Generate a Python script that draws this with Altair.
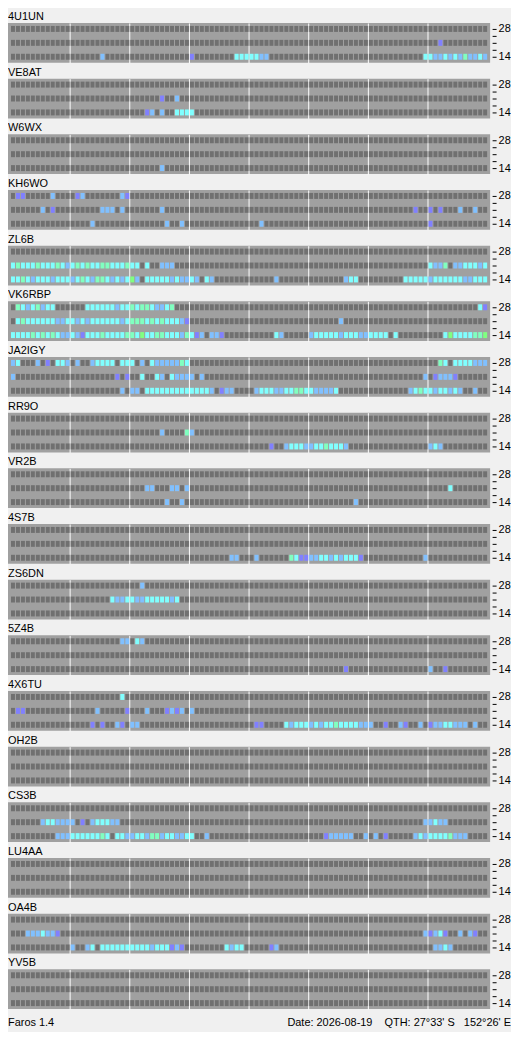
import altair as alt
import pandas as pd

# ---------------- data ----------------
STATIONS = ["4U1UN", "VE8AT", "W6WX", "KH6WO", "ZL6B", "VK6RBP", "JA2IGY", "RR9O",
            "VR2B", "4S7B", "ZS6DN", "5Z4B", "4X6TU", "OH2B", "CS3B", "LU4AA",
            "OA4B", "YV5B"]
BANDS = [28, 21, 14]          # rows drawn per station (MHz)
N_SLOTS = 96                  # time slots across the day

# signal codes: " " none, v violet, s sky, c cyan, m mint, g green
LEVELS = ["0", "v", "s", "c", "m", "g"]
LEVEL_COLORS = ["#707070", "#8080ff", "#80c0ff", "#80ffff", "#80ffc0", "#80ff80"]

# band -> list of (first slot, run of codes)
S_4U1UN = {21: [(86, "v")],
           14: [(18, "s"), (36, "v"), (45, "cccccss"), (83, "ccsscscsmsscs")]}
S_VE8AT = {21: [(30, "v"), (33, "s")],
           14: [(27, "vs s  cccc")]}
S_W6WX = {14: [(30, "s")]}
S_KH6WO = {28: [(1, "vv"), (8, "s"), (13, "vs"), (22, "sv")],
           21: [(6, "s v"), (18, "sss s"), (30, "s"), (81, "v"), (84, "v v   s  s")],
           14: [(16, "s"), (31, "s"), (34, "s"), (50, "s"), (84, "v")]}
S_ZL6B = {21: [(0, "cmcccmcccmcs"), (12, "cmcmccmmcccm"), (24, "cc c  sss"),
               (84, "cssm sscccsc")],
          14: [(0, "ccmcscccsccc"), (12, "scmcsmmcscsc"), (24, "gs cccccscss"),
               (36, "cs cs"), (53, "s"), (67, "scc"), (79, "ccccc"), (84, "sccccccssccc")]}
S_VK6RBP = {28: [(1, "mcscmscc"), (15, "ccccccscc"), (24, "mcmmcsscm"), (94, "cv")],
            21: [(1, "cmccccccssc"), (12, "cscsccccccsc"), (24, "mmmcmcmcccsv"), (66, "s")],
            14: [(0, "ccccmcmcmcss"), (12, "csvcccmccccm"), (24, "mcgccmmcccsm"),
                 (36, "cvs ssv"), (53, "cs"), (60, "scccccscccss"), (72, "cccc c"),
                 (87, "cgccccmmg")]}
S_JA2IGY = {28: [(0, "sc   s v ccs"), (12, " s  scccc cc"), (24, "c s csssssmc"),
                 (86, "mc ccccsss")],
            21: [(0, "s"), (21, "v v"), (26, "c  cs cssss s"), (83, "s vsssv")],
            14: [(22, "s"), (24, "ss cccccccccccccs vss"), (49, "scccssccmmccssssc"),
                 (80, "scmccsccscs  s")]}
S_RR9O = {21: [(30, "s"), (35, "ms")],
          14: [(52, "v  scccssccmcccs"), (84, "scs")]}
S_VR2B = {21: [(27, "ss   ss s"), (88, "c")],
          14: [(31, "s"), (34, "s"), (69, "s")]}
S_4S7B = {14: [(44, "ss   s"), (56, "mcvvssccscscccv"), (83, "s")]}
S_ZS6DN = {28: [(26, "s")],
           21: [(20, "cssccsscccccsc")]}
S_5Z4B = {28: [(22, "ss cs")],
          14: [(67, "v"), (84, "s  v")]}
S_4X6TU = {28: [(22, "c")],
           21: [(1, "vv"), (17, "s"), (23, "v"), (27, "s"), (31, "vsvs"), (36, "s")],
           14: [(16, "v v  sv ss"), (49, "vv"), (55, "cscccscsccmccccsss"), (75, "v"),
                (78, "sv"), (82, "s"), (84, "vssccsss"), (93, "s")]}
S_OH2B = {}
S_CS3B = {21: [(6, "sccssss v scccss"), (83, "sscss")],
          14: [(9, "sssccccccmc ccssccsmmsccsscc"), (39, "s"), (63, "vsssss  s s v"),
               (81, "scsccccmsss")]}
S_LU4AA = {}
S_OA4B = {21: [(3, "ssscssv"), (83, "svscv  s sv")],
          14: [(12, "s  sc ccccccccccscccvsv"), (43, "cscc"), (52, "vs"), (85, "sscs")]}
S_YV5B = {}

RECEPTION = {"4U1UN": S_4U1UN, "VE8AT": S_VE8AT, "W6WX": S_W6WX, "KH6WO": S_KH6WO,
             "ZL6B": S_ZL6B, "VK6RBP": S_VK6RBP, "JA2IGY": S_JA2IGY, "RR9O": S_RR9O,
             "VR2B": S_VR2B, "4S7B": S_4S7B, "ZS6DN": S_ZS6DN, "5Z4B": S_5Z4B,
             "4X6TU": S_4X6TU, "OH2B": S_OH2B, "CS3B": S_CS3B, "LU4AA": S_LU4AA,
             "OA4B": S_OA4B, "YV5B": S_YV5B}

FOOTER_LEFT = "Faros 1.4"
FOOTER_RIGHT = "Date: 2026-08-19\u00a0\u00a0\u00a0\u00a0QTH: 27°33' S\u00a0\u00a0\u00a0152°26' E"

# ---------------- build table ----------------
records = []
for st in STATIONS:
    segs = RECEPTION[st]
    for band in BANDS:
        row = ["0"] * N_SLOTS
        for start, run in segs.get(band, []):
            for k, ch in enumerate(run):
                if ch != " ":
                    row[start + k] = ch
        for slot in range(N_SLOTS):
            records.append({"station": st, "band": band, "slot": slot, "level": row[slot]})
df = pd.DataFrame(records)

FONT = "Liberation Sans"
GRID_AT = [12 * k - 0.6 for k in range(1, 8)]      # 3-hour separators
TICKS_AT = [14, 17.5, 21, 24.5, 28]


def panel(st):
    return alt.Chart(df).transform_filter(
        alt.datum.station == st
    ).transform_calculate(
        x0="datum.slot - 0.4", x1="datum.slot + 0.4",
        y0="datum.band - 1.5", y1="datum.band + 1.5",
    ).mark_rect().encode(
        x=alt.X("x0:Q", scale=alt.Scale(domain=[-1, 96], nice=False, zero=False),
                axis=alt.Axis(values=GRID_AT, grid=True, gridColor="#ffffff", gridOpacity=1,
                              gridWidth=1, labels=False, ticks=False, domain=False, title=None)),
        x2="x1:Q",
        y=alt.Y("y0:Q", scale=alt.Scale(domain=[11, 31], nice=False, zero=False),
                axis=alt.Axis(orient="right", values=TICKS_AT,
                              labelExpr="datum.value == 28 || datum.value == 14 ? datum.label : ''",
                              labelOverlap=False, tickSize=4, tickColor="#000000", tickWidth=1,
                              domain=False, grid=False, offset=2, labelPadding=2,
                              labelFontSize=11, labelFont=FONT, labelColor="#000000",
                              labelBaseline="middle", title=None)),
        y2="y1:Q",
        color=alt.Color("level:N", scale=alt.Scale(domain=LEVELS, range=LEVEL_COLORS),
                        legend=None),
    ).properties(
        width=485, height=40,
        title=alt.TitleParams(st, anchor="start", fontSize=11, font=FONT, fontWeight="normal",
                              color="#000000", offset=1, frame="group"),
    )


# flush bounds: panels sit exactly 56 px apart, titles live in the gaps
panels = alt.vconcat(*[panel(st) for st in STATIONS], spacing=16, bounds="flush")

foot_df = pd.DataFrame({"text": [FOOTER_LEFT, FOOTER_RIGHT], "side": ["left", "right"]})
foot_left = alt.Chart(foot_df).transform_filter("datum.side == 'left'").mark_text(
    align="left", baseline="middle", fontSize=11, font=FONT, color="#000000"
).encode(x=alt.value(0), y=alt.value(6), text="text:N")
foot_right = alt.Chart(foot_df).transform_filter("datum.side == 'right'").mark_text(
    align="right", baseline="middle", fontSize=11, font=FONT, color="#000000"
).encode(x=alt.value(506), y=alt.value(6), text="text:N")
footer = alt.layer(foot_left, foot_right).properties(
    width=506, height=12, view=alt.ViewBackground(fill="#f0f0f0", stroke=None))

chart = alt.vconcat(panels, footer, spacing=8).properties(
    padding=0, background="#f0f0f0"
).configure_view(fill="#a0a0a0", stroke=None)

chart.save("out.html", embed_options={"renderer": "svg", "actions": False})
